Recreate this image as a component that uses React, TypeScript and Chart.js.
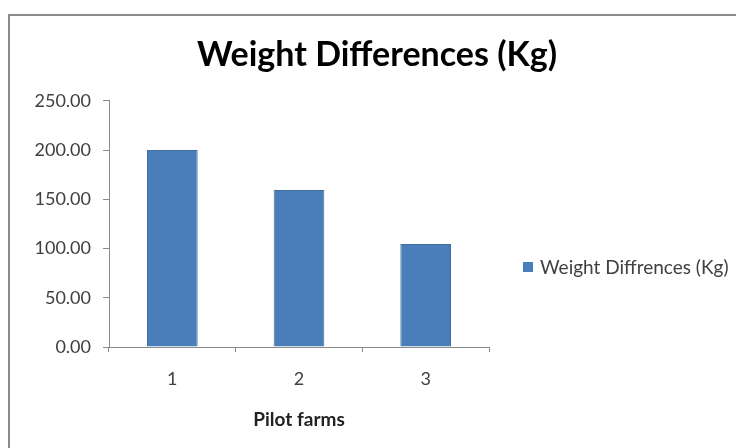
import React, { useEffect, useRef } from "react";
import { Chart, registerables } from "chart.js";

Chart.register(...registerables);

const farms = ["1", "2", "3"];
const weightDiffs = [200, 159.5, 104.5];
const seriesLabel = "Weight Diffrences (Kg)";
const chartTitle = "Weight Differences (Kg)";
const xAxisTitle = "Pilot farms";
const yMax = 250;
const yStep = 50;

const FONT = "Lato, 'Open Sans', 'DejaVu Sans', sans-serif";
const BAR_COLOR = "#4a7ebb";
const AXIS_COLOR = "#8a8a8a";

// Outer frame around the whole chart
const framePlugin = {
  id: "frame",
  beforeDraw(chart: any) {
    const { ctx } = chart;
    ctx.save();
    ctx.strokeStyle = "#8c8c8c";
    ctx.lineWidth = 2;
    ctx.strokeRect(9, 15, 760, 460);
    ctx.restore();
  },
};

// Legend drawn beside the plot area
const sideLegendPlugin = {
  id: "sideLegend",
  afterDraw(chart: any) {
    const { ctx } = chart;
    const ds = chart.data.datasets[0];
    const x = 523;
    const y = 267;
    ctx.save();
    ctx.fillStyle = ds.backgroundColor;
    ctx.fillRect(x, y - 5, 10, 10);
    ctx.fillStyle = "#404040";
    ctx.font = `19px ${FONT}`;
    ctx.textBaseline = "middle";
    ctx.textAlign = "left";
    ctx.fillText(ds.label, x + 17, y + 1);
    ctx.restore();
  },
};

export default function App() {
  const canvasRef = useRef<HTMLCanvasElement | null>(null);

  useEffect(() => {
    if (!canvasRef.current) return;
    const chart = new Chart(canvasRef.current, {
      type: "bar",
      data: {
        labels: farms,
        datasets: [
          {
            label: seriesLabel,
            data: weightDiffs,
            backgroundColor: BAR_COLOR,
            borderColor: "#41709f",
            borderWidth: 1,
            categoryPercentage: 0.8,
            barPercentage: 0.5,
            yAxisID: "y",
          },
        ],
      },
      options: {
        responsive: false,
        animation: false,
        layout: { padding: { left: 18, right: 0, top: 0, bottom: 0 } },
        plugins: {
          legend: { display: false },
          tooltip: { enabled: false },
          title: {
            display: true,
            text: chartTitle,
            color: "#000000",
            font: { family: FONT, size: 34, weight: "bold", lineHeight: 1.2 },
            padding: { top: 35, bottom: 25 },
          },
        },
        scales: {
          x: {
            offset: true,
            grid: {
              display: true,
              offset: true,
              drawOnChartArea: false,
              drawTicks: true,
              tickLength: 5,
              color: AXIS_COLOR,
            },
            border: { display: true, color: AXIS_COLOR, width: 1 },
            ticks: {
              color: "#404040",
              font: { family: FONT, size: 18 },
              padding: 16,
            },
            title: {
              display: true,
              text: xAxisTitle,
              color: "#222222",
              font: { family: FONT, size: 19, weight: "bold", lineHeight: 1.2 },
              padding: { top: 0, bottom: 17 },
            },
            afterFit(scale: any) {
              scale.height = 101;
            },
          },
          y: {
            min: 0,
            max: yMax,
            position: "left",
            grid: {
              display: true,
              drawOnChartArea: false,
              drawTicks: true,
              tickLength: 6,
              color: AXIS_COLOR,
            },
            border: { display: true, color: AXIS_COLOR, width: 1 },
            ticks: {
              stepSize: yStep,
              color: "#404040",
              font: { family: FONT, size: 18 },
              padding: 12,
              callback: (v: any) => Number(v).toFixed(2),
            },
            afterFit(scale: any) {
              scale.width = 91;
            },
          },
          side: {
            type: "linear",
            position: "right",
            min: 0,
            max: 1,
            grid: { display: false },
            border: { display: false },
            ticks: { display: false },
            afterFit(scale: any) {
              scale.width = 247;
            },
          },
        },
      },
      plugins: [framePlugin, sideLegendPlugin],
    });
    return () => chart.destroy();
  }, []);

  return (
    <div style={{ position: "absolute", left: 0, top: 0, width: 736, height: 448, background: "#ffffff" }}>
      <canvas ref={canvasRef} width={736} height={448} style={{ display: "block" }} />
    </div>
  );
}
